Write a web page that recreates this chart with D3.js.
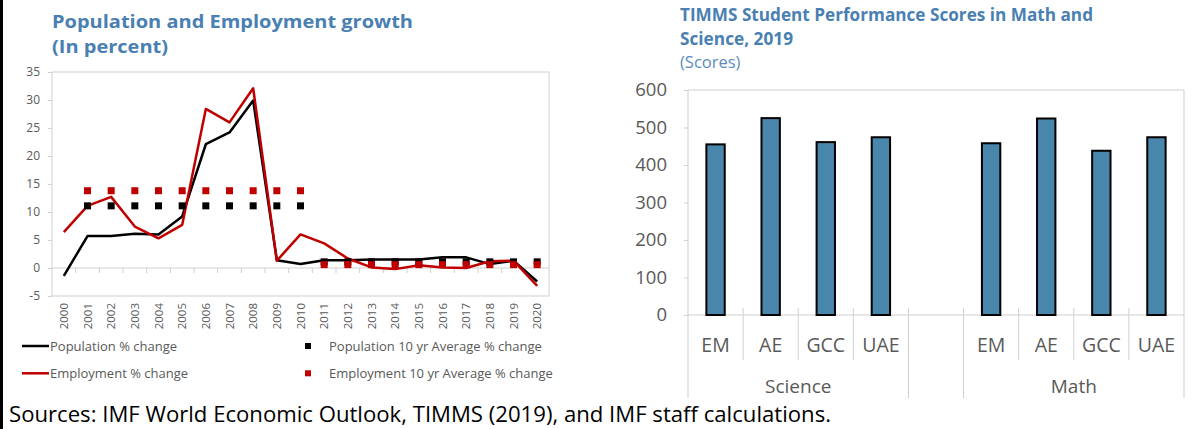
<!DOCTYPE html>
<html>
<head>
<meta charset="utf-8">
<script src="https://cdn.jsdelivr.net/npm/d3@7"></script>
<style>
  html, body { margin: 0; padding: 0; background: #fff; }
  svg { display: block; font-family: "Open Sans", "Noto Sans", sans-serif; }
</style>
</head>
<body>
<svg id="chart" width="1193" height="429"></svg>
<script>
// ---------------- DATA ----------------
const years = ["2000","2001","2002","2003","2004","2005","2006","2007","2008","2009","2010",
               "2011","2012","2013","2014","2015","2016","2017","2018","2019","2020"];
const populationChange = [-1.4, 5.7, 5.7, 6.1, 6.0, 9.2, 22.1, 24.2, 29.9, 1.4, 0.7,
                          1.4, 1.4, 1.5, 1.5, 1.5, 1.9, 1.9, 0.7, 1.3, -2.4];
const employmentChange = [6.4, 11.1, 12.7, 7.4, 5.3, 7.7, 28.4, 26.0, 32.1, 1.3, 6.0,
                          4.4, 1.7, 0.1, -0.2, 0.5, 0.1, 0.0, 1.2, 1.3, -3.2];
const populationAvg = [null, 11.1, 11.1, 11.1, 11.1, 11.1, 11.1, 11.1, 11.1, 11.1, 11.1,
                       1.1, 1.1, 1.1, 1.1, 1.1, 1.1, 1.1, 1.1, 1.1, 1.1];
const employmentAvg = [null, 13.8, 13.8, 13.8, 13.8, 13.8, 13.8, 13.8, 13.8, 13.8, 13.8,
                       0.6, 0.6, 0.6, 0.6, 0.6, 0.6, 0.6, 0.6, 0.6, 0.6];
const leftYTicks = [-5, 0, 5, 10, 15, 20, 25, 30, 35];
const leftLegend = ["Population % change", "Employment % change",
                    "Population 10 yr Average % change", "Employment 10 yr Average % change"];

const subjects = ["Science", "Math"];
const regions = ["EM", "AE", "GCC", "UAE"];
const scienceScores = [455, 525, 461, 474];
const mathScores = [458, 524, 438, 474];
const rightYTicks = [0, 100, 200, 300, 400, 500, 600];

const leftTitle = ["Population and Employment growth", "(In percent)"];
const rightTitle = ["TIMMS Student Performance Scores in Math and", "Science, 2019"];
const rightSubtitle = "(Scores)";
const sourceNote = "Sources: IMF World Economic Outlook, TIMMS (2019), and IMF staff calculations.";

// ---------------- STYLE ----------------
const titleColor = "#4a7fb2";
const labelColor = "#595959";
const axisColor = "#cfcfcf";
const red = "#c00000";
const barFill = "#4886ab";

const svg = d3.select("#chart");

// outer left border
svg.append("rect").attr("x", 0).attr("y", 0).attr("width", 3).attr("height", 429).attr("fill", "#000");

// ================= LEFT CHART =================
const L = { x0: 52, x1: 549, y0: 72, y1: 296 };
const xL = d3.scaleBand().domain(years).range([L.x0, L.x1]).padding(0);
const yL = d3.scaleLinear().domain([-5, 35]).range([L.y1, L.y0]);
const gL = svg.append("g");

// frame
gL.append("rect").attr("x", L.x0).attr("y", L.y0).attr("width", L.x1 - L.x0).attr("height", L.y1 - L.y0)
  .attr("fill", "none").attr("stroke", axisColor).attr("stroke-width", 1);

// y axis
const yAxisL = d3.axisLeft(yL).tickValues(leftYTicks).tickFormat(d => String(d)).tickSize(4).tickPadding(8);
const yAxG = gL.append("g").attr("transform", `translate(${L.x0},0)`).call(yAxisL);
yAxG.select(".domain").remove();
yAxG.selectAll(".tick line").attr("stroke", axisColor);
yAxG.selectAll(".tick text").attr("fill", labelColor).style("font-size", "12px").style("font-family", "'Open Sans', sans-serif");

// zero line with category ticks
const zeroY = yL(0);
gL.append("line").attr("x1", L.x0).attr("x2", L.x1).attr("y1", zeroY).attr("y2", zeroY)
  .attr("stroke", axisColor).attr("stroke-width", 1.2);
gL.selectAll("line.ctick").data(years.slice(1)).enter().append("line")
  .attr("x1", d => xL(d)).attr("x2", d => xL(d))
  .attr("y1", zeroY).attr("y2", zeroY + 5).attr("stroke", axisColor);

// x labels (rotated)
gL.selectAll("text.xl").data(years).enter().append("text")
  .attr("transform", d => `translate(${xL(d) + xL.bandwidth() / 2},303) rotate(-90)`)
  .attr("text-anchor", "end").attr("dy", "0.35em")
  .attr("fill", labelColor).style("font-size", "11.5px").text(d => d);

// lines
const lineGen = d3.line().x((d, i) => xL(years[i]) + xL.bandwidth() / 2).y(d => yL(d));
gL.append("path").datum(populationChange).attr("d", lineGen)
  .attr("fill", "none").attr("stroke", "#000").attr("stroke-width", 2.5).attr("stroke-linejoin", "round");
gL.append("path").datum(employmentChange).attr("d", lineGen)
  .attr("fill", "none").attr("stroke", red).attr("stroke-width", 2.5).attr("stroke-linejoin", "round");

// average squares
const sq = 7;
function drawSquares(arr, color) {
  gL.selectAll(null).data(arr.map((v, i) => ({ v, i })).filter(d => d.v !== null)).enter().append("rect")
    .attr("x", d => xL(years[d.i]) + xL.bandwidth() / 2 - sq / 2)
    .attr("y", d => yL(d.v) - sq / 2)
    .attr("width", sq).attr("height", sq).attr("fill", color);
}
drawSquares(populationAvg, "#000");
drawSquares(employmentAvg, red);

// titles
svg.append("text").attr("x", 52).attr("y", 28).attr("fill", titleColor)
  .style("font-weight", "bold").style("font-size", "18.5px")
  .attr("textLength", 361).attr("lengthAdjust", "spacingAndGlyphs").text(leftTitle[0]);
svg.append("text").attr("x", 52).attr("y", 52.5).attr("fill", titleColor)
  .style("font-weight", "bold").style("font-size", "18.5px")
  .attr("textLength", 116).attr("lengthAdjust", "spacingAndGlyphs").text(leftTitle[1]);

// legend
const lg = svg.append("g").style("font-size", "13px").attr("fill", labelColor);
[[0, "#000", 346], [1, red, 373.3]].forEach(([k, c, y]) => {
  lg.append("line").attr("x1", 22).attr("x2", 49).attr("y1", y).attr("y2", y).attr("stroke", c).attr("stroke-width", 2.5);
  lg.append("text").attr("x", 50).attr("y", y + 4.5).text(leftLegend[k]);
});
[[2, "#000", 346], [3, red, 373.3]].forEach(([k, c, y]) => {
  lg.append("rect").attr("x", 305).attr("y", y - 3).attr("width", 6).attr("height", 6).attr("fill", c);
  lg.append("text").attr("x", 329).attr("y", y + 4.5).text(leftLegend[k]);
});

// ================= RIGHT CHART =================
const R = { x0: 688, x1: 1184, y0: 90, y1: 315 };
const slots = [];
subjects.forEach((s, si) => {
  regions.forEach(r => slots.push(s + "|" + r));
  if (si < subjects.length - 1) slots.push("gap" + si);
});
const xR = d3.scaleBand().domain(slots).range([R.x0, R.x1]).padding(0);
const yR = d3.scaleLinear().domain([0, 600]).range([R.y1, R.y0]);
const gR = svg.append("g");

// frame (top, left, right)
gR.append("line").attr("x1", R.x0).attr("x2", R.x1).attr("y1", R.y0).attr("y2", R.y0).attr("stroke", axisColor);
gR.append("line").attr("x1", R.x0).attr("x2", R.x0).attr("y1", R.y0).attr("y2", 398).attr("stroke", axisColor);
gR.append("line").attr("x1", R.x1).attr("x2", R.x1).attr("y1", R.y0).attr("y2", 398).attr("stroke", axisColor);
gR.append("line").attr("x1", R.x0).attr("x2", R.x1).attr("y1", R.y1).attr("y2", R.y1).attr("stroke", axisColor).attr("stroke-width", 1.2);

// y axis
const yAxisR = d3.axisLeft(yR).tickValues(rightYTicks).tickSize(4).tickPadding(17);
const yAxRG = gR.append("g").attr("transform", `translate(${R.x0},0)`).call(yAxisR);
yAxRG.select(".domain").remove();
yAxRG.selectAll(".tick line").attr("stroke", axisColor);
yAxRG.selectAll(".tick text").attr("fill", labelColor).style("font-size", "18.5px").style("font-family", "'Open Sans', sans-serif");

// category tick lines
slots.slice(1).forEach((s, i) => {
  const x = xR(s);
  const prev = slots[i];
  const isGroupEdge = s.startsWith("gap") || prev.startsWith("gap");
  gR.append("line").attr("x1", x).attr("x2", x).attr("y1", 308).attr("y2", isGroupEdge ? 398 : 360).attr("stroke", axisColor);
});

// bars
const barData = [];
subjects.forEach((s, si) => {
  const vals = si === 0 ? scienceScores : mathScores;
  regions.forEach((r, ri) => barData.push({ key: s + "|" + r, region: r, v: vals[ri] }));
});
const bw = xR.bandwidth() / 3;
gR.selectAll("rect.bar").data(barData).enter().append("rect")
  .attr("x", d => xR(d.key) + xR.bandwidth() / 2 - bw / 2)
  .attr("y", d => yR(d.v))
  .attr("width", bw).attr("height", d => yR(0) - yR(d.v))
  .attr("fill", barFill).attr("stroke", "#000").attr("stroke-width", 2);

// category labels
gR.selectAll("text.cat").data(barData).enter().append("text")
  .attr("x", d => xR(d.key) + xR.bandwidth() / 2).attr("y", 352)
  .attr("text-anchor", "middle").attr("fill", labelColor).style("font-size", "19.5px").text(d => d.region);

// group labels
subjects.forEach(s => {
  const a = xR(s + "|" + regions[0]);
  const b = xR(s + "|" + regions[regions.length - 1]) + xR.bandwidth();
  gR.append("text").attr("x", (a + b) / 2).attr("y", 393).attr("text-anchor", "middle")
    .attr("fill", labelColor).style("font-size", "19px").text(s);
});

// titles
svg.append("text").attr("x", 680).attr("y", 21).attr("fill", titleColor)
  .style("font-weight", "bold").style("font-size", "17.5px")
  .attr("textLength", 413).attr("lengthAdjust", "spacingAndGlyphs").text(rightTitle[0]);
svg.append("text").attr("x", 680).attr("y", 45).attr("fill", titleColor)
  .style("font-weight", "bold").style("font-size", "17.5px")
  .attr("textLength", 113).attr("lengthAdjust", "spacingAndGlyphs").text(rightTitle[1]);
svg.append("text").attr("x", 680).attr("y", 68).attr("fill", "#5b8cbd")
  .style("font-size", "16.5px").text(rightSubtitle);

// source note
svg.append("text").attr("x", 9).attr("y", 422).attr("fill", "#000")
  .style("font-size", "22px")
  .attr("textLength", 822).attr("lengthAdjust", "spacingAndGlyphs").text(sourceNote);
</script>
</body>
</html>
